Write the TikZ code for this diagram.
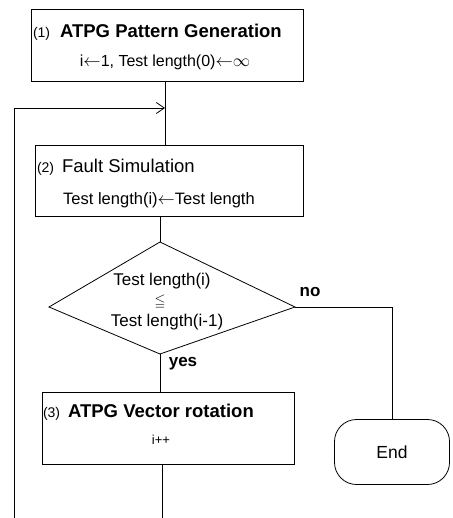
\documentclass[tikz,border=0pt]{standalone}
\usepackage{amssymb}
\usepackage{fontspec}
\setmainfont{Liberation Sans}
\usetikzlibrary{arrows.meta}
\newcommand{\hdfont}{\fontsize{18.5}{21}\selectfont\bfseries}
\newcommand{\numfont}{\fontsize{14}{16}\selectfont}
\newcommand{\la}{\ensuremath{\leftarrow}}
\begin{document}
\begin{tikzpicture}[x=1pt,y=-1pt,line width=0.8pt,
  box/.style={draw,rectangle,inner sep=0pt},
  txt/.style={inner sep=0pt,outer sep=0pt},
  lbl/.style={inner sep=0pt,font=\fontsize{17}{19}\selectfont\bfseries},
  loopArrow/.style={-{Straight Barb[length=8pt,width=11pt,line width=0.8pt]}}]
\useasboundingbox (0,0) rectangle (452,518);
% boxes
\node[box,minimum width=272pt,minimum height=72pt] (b1) at (167,45) {};
\node[box,minimum width=268pt,minimum height=71pt] (b2) at (169,180.5) {};
\node[box,minimum width=252pt,minimum height=72pt] (b3) at (168,428) {};
\node[draw,rectangle,rounded corners=22pt,minimum width=115pt,minimum height=65pt,
      font=\fontsize{17.5}{20}\selectfont] (e) at (392,452) {End};
% diamond
\coordinate (dT) at (160,242);
\coordinate (dL) at (49,307);
\coordinate (dR) at (295,307);
\coordinate (dB) at (160,354);
\draw (dT) -- (dR) -- (dB) -- (dL) -- cycle;
\node[txt,font=\fontsize{17}{19}\selectfont] (d1) at (162,281) {Test length(i)};
\node[txt,font=\fontsize{14}{16}\selectfont] (d2) at (160,302) {$\leqq$};
\node[txt,font=\fontsize{17}{19}\selectfont] (d3) at (167,322) {Test length(i-1)};
% texts in boxes
\node[txt,anchor=west] (h1) at (33,32) {\numfont(1)\hspace{10pt}\hdfont ATPG Pattern Generation};
\node[txt,font=\fontsize{16}{18}\selectfont] (s1) at (165,62) {i\la1, Test length(0)\la$\infty$};
\node[txt,anchor=west] (h2) at (37,167) {\numfont(2)\hspace{8pt}\fontsize{18.5}{21}\selectfont Fault Simulation};
\node[txt,font=\fontsize{16.5}{19}\selectfont] (s2) at (159,200) {Test length(i)\la Test length};
\node[txt,anchor=west] (h3) at (43,412) {\numfont(3)\hspace{8pt}\hdfont ATPG Vector rotation};
\node[txt,font=\fontsize{13}{15}\selectfont] (s3) at (161,440) {i++};
% labels
\node[lbl] (no) at (310,292) {no};
\node[lbl] (yes) at (183,364) {yes};
% connectors
\coordinate (m1) at (165,108);
\coordinate (lb) at (14,518);
\coordinate (lt) at (14,108);
\coordinate (bot) at (162,518);
\draw (b1.south -| m1) -- (b2.north -| m1);
\draw[loopArrow] (lb) -- (lt) -- (m1);
\draw (b2.south -| dT) -- (dT);
\draw (dB) -- (b3.north -| dB);
\draw (b3.south -| bot) -- (bot);
\draw (dR) -- (dR -| e.north) -- (e.north);
\end{tikzpicture}
\end{document}
